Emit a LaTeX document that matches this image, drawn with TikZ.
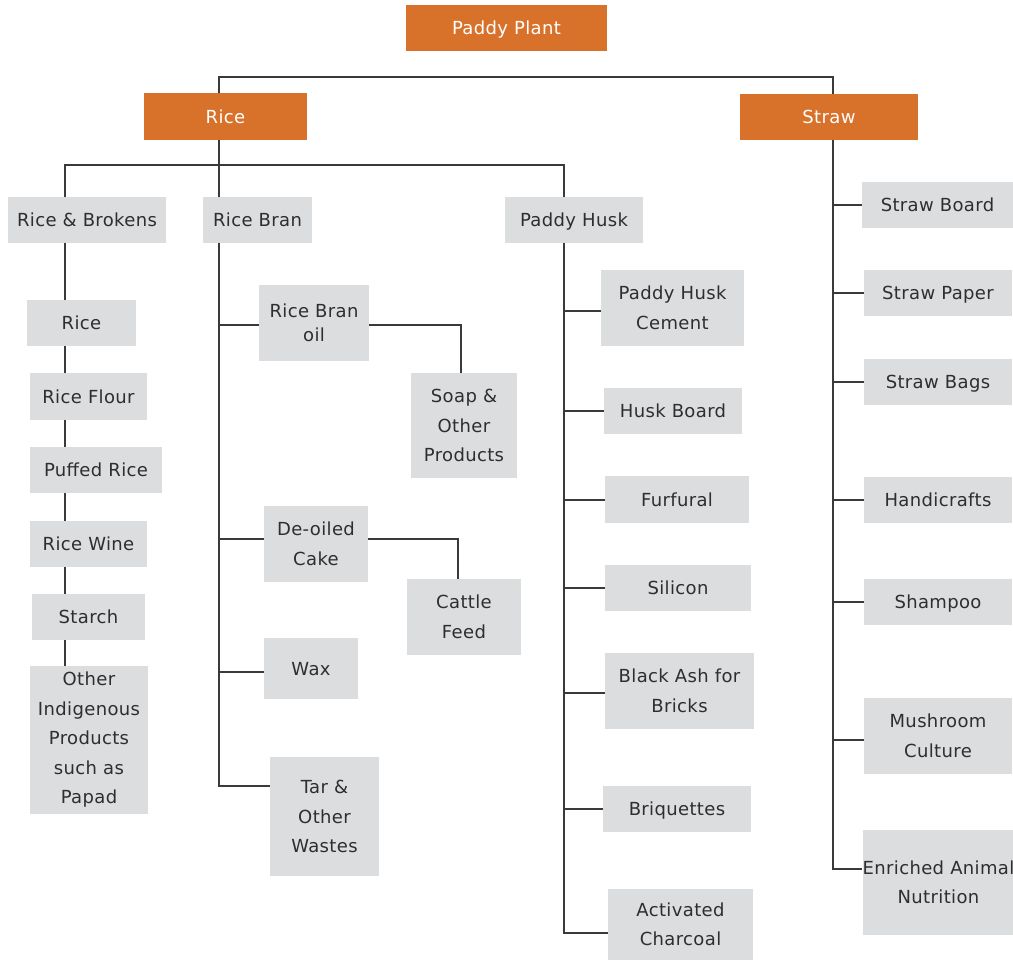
\documentclass[tikz,border=0pt]{standalone}
\usepackage{fontspec}
\setmainfont[LetterSpace=2]{DejaVu Sans}
\usetikzlibrary{calc}
\definecolor{ochre}{HTML}{D8722B}
\definecolor{boxgray}{HTML}{DCDDDF}
\definecolor{ink}{HTML}{2E2E2E}
\definecolor{wire}{HTML}{3A3A3A}

% box from its left/right/top/bottom edges (pixel-like units, y grows downward)
\newcommand\mkbox[7]{%
  \pgfmathsetmacro\bw{#4-#3}\pgfmathsetmacro\bh{#6-#5}%
  \pgfmathsetmacro\bcx{(#3+#4)/2}\pgfmathsetmacro\bcy{(#5+#6)/2}%
  \node[#1, minimum width=\bw pt, minimum height=\bh pt] (#2) at (\bcx,\bcy) {#7};}

\begin{document}
\begin{tikzpicture}[x=1pt, y=-1pt,
  head/.style={fill=ochre, text=white, inner sep=0pt, align=center,
    font=\fontsize{18}{29.5}\selectfont},
  leaf/.style={fill=boxgray, text=ink, inner sep=0pt, align=center,
    font=\fontsize{18}{29.5}\selectfont},
  oneline/.style={text height=13pt, text depth=0pt},
  wire/.style={draw=wire, line width=1.3pt}]
\fill[white] (0,0) rectangle (1013,961);
\useasboundingbox (0,0) rectangle (1013,961);

% top level
\mkbox{head,oneline}{plant}{406}{607}{5}{51}{Paddy Plant}
\mkbox{head,oneline}{rice}{144}{307}{93}{140}{Rice}
\mkbox{head,oneline}{straw}{740}{918}{94}{140}{Straw}

% rice products
\mkbox{leaf,oneline}{rb}{8}{166}{197}{243}{Rice \& Brokens}
\mkbox{leaf,oneline}{bran}{203}{312}{197}{243}{Rice Bran}
\mkbox{leaf,oneline}{husk}{505}{643}{197}{243}{Paddy Husk}

% rice & brokens chain
\mkbox{leaf,oneline}{r1}{27}{136}{300}{346}{Rice}
\mkbox{leaf,oneline}{r2}{30}{147}{373}{420}{Rice Flour}
\mkbox{leaf,oneline}{r3}{30}{162}{447}{493}{Puffed Rice}
\mkbox{leaf,oneline}{r4}{30}{147}{521}{567}{Rice Wine}
\mkbox{leaf,oneline}{r5}{32}{145}{594}{640}{Starch}
\mkbox{leaf}{r6}{30}{148}{666}{814}{Other\\Indigenous\\Products\\such as\\Papad}

% rice bran branch
\mkbox{leaf}{b1}{259}{369}{285}{361}{Rice Bran\\[-6pt]oil}
\mkbox{leaf}{b1a}{411}{517}{373}{478}{Soap \&\\Other\\Products}
\mkbox{leaf}{b2}{264}{368}{506}{582}{De-oiled\\Cake}
\mkbox{leaf}{b2a}{407}{521}{579}{655}{Cattle\\Feed}
\mkbox{leaf,oneline}{b3}{264}{358}{638}{699}{Wax}
\mkbox{leaf}{b4}{270}{379}{757}{876}{Tar \&\\Other\\Wastes}

% paddy husk branch
\mkbox{leaf}{h1}{601}{744}{270}{346}{Paddy Husk\\Cement}
\mkbox{leaf,oneline}{h2}{604}{742}{388}{434}{Husk Board}
\mkbox{leaf,oneline}{h3}{605}{749}{476}{523}{Furfural}
\mkbox{leaf,oneline}{h4}{605}{751}{565}{611}{Silicon}
\mkbox{leaf}{h5}{605}{754}{653}{729}{Black Ash for\\Bricks}
\mkbox{leaf,oneline}{h6}{603}{751}{786}{832}{Briquettes}
\mkbox{leaf}{h7}{608}{753}{889}{960}{Activated\\Charcoal}

% straw branch
\mkbox{leaf,oneline}{s1}{862}{1013}{182}{228}{Straw Board}
\mkbox{leaf,oneline}{s2}{864}{1012}{270}{316}{Straw Paper}
\mkbox{leaf,oneline}{s3}{864}{1012}{359}{405}{Straw Bags}
\mkbox{leaf,oneline}{s4}{864}{1012}{477}{523}{Handicrafts}
\mkbox{leaf,oneline}{s5}{864}{1012}{579}{625}{Shampoo}
\mkbox{leaf}{s6}{864}{1012}{698}{774}{Mushroom\\Culture}
\mkbox{leaf}{s7}{864}{1013}{830}{935}{Enriched Animal\\Nutrition}

% trunk positions
\coordinate (kx) at (65,0);
\coordinate (rx) at (219,0);
\coordinate (hx) at (564,0);
\coordinate (sx) at (833,0);
\coordinate (topbar) at (0,77);
\coordinate (midbar) at (0,165);

% rice / straw split
\draw[wire] (rice.north -| rx) |- (topbar -| sx) -- (straw.north -| sx);
% rice split
\draw[wire] (rice.south -| rx) -- (bran.north -| rx);
\draw[wire] (rb.north -| kx) |- (midbar -| hx) -- (husk.north -| hx);

% rice & brokens chain
\draw[wire] (rb.south -| kx) -- (r1.north -| kx);
\draw[wire] (r1.south -| kx) -- (r2.north -| kx);
\draw[wire] (r2.south -| kx) -- (r3.north -| kx);
\draw[wire] (r3.south -| kx) -- (r4.north -| kx);
\draw[wire] (r4.south -| kx) -- (r5.north -| kx);
\draw[wire] (r5.south -| kx) -- (r6.north -| kx);

% rice bran
\draw[wire] (bran.south -| rx) |- ($(b1.north west)!0.526!(b1.south west)$);
\draw[wire] (bran.south -| rx) |- ($(b2.north west)!0.434!(b2.south west)$);
\draw[wire] (bran.south -| rx) |- ($(b3.north west)!0.557!(b3.south west)$);
\draw[wire] (bran.south -| rx) |- ($(b4.north west)!0.244!(b4.south west)$);
\draw[wire] ($(b1.north east)!0.526!(b1.south east)$) -| ([xshift=-3pt]b1a.north);
\draw[wire] ($(b2.north east)!0.434!(b2.south east)$) -| ([xshift=-6pt]b2a.north);

% paddy husk
\draw[wire] (husk.south -| hx) |- ($(h1.north west)!0.54!(h1.south west)$);
\draw[wire] (husk.south -| hx) |- (h2.west);
\draw[wire] (husk.south -| hx) |- ([yshift=-0.5pt]h3.west);
\draw[wire] (husk.south -| hx) |- (h4.west);
\draw[wire] (husk.south -| hx) |- ($(h5.north west)!0.526!(h5.south west)$);
\draw[wire] (husk.south -| hx) |- (h6.west);
\draw[wire] (husk.south -| hx) |- ($(h7.north west)!0.62!(h7.south west)$);

% straw
\draw[wire] (straw.south -| sx) |- (s1.west);
\draw[wire] (straw.south -| sx) |- (s2.west);
\draw[wire] (straw.south -| sx) |- (s3.west);
\draw[wire] (straw.south -| sx) |- (s4.west);
\draw[wire] (straw.south -| sx) |- (s5.west);
\draw[wire] (straw.south -| sx) |- ($(s6.north west)!0.553!(s6.south west)$);
\draw[wire] (straw.south -| sx) |- ($(s7.north west)!0.371!(s7.south west)$);
\end{tikzpicture}
\end{document}
